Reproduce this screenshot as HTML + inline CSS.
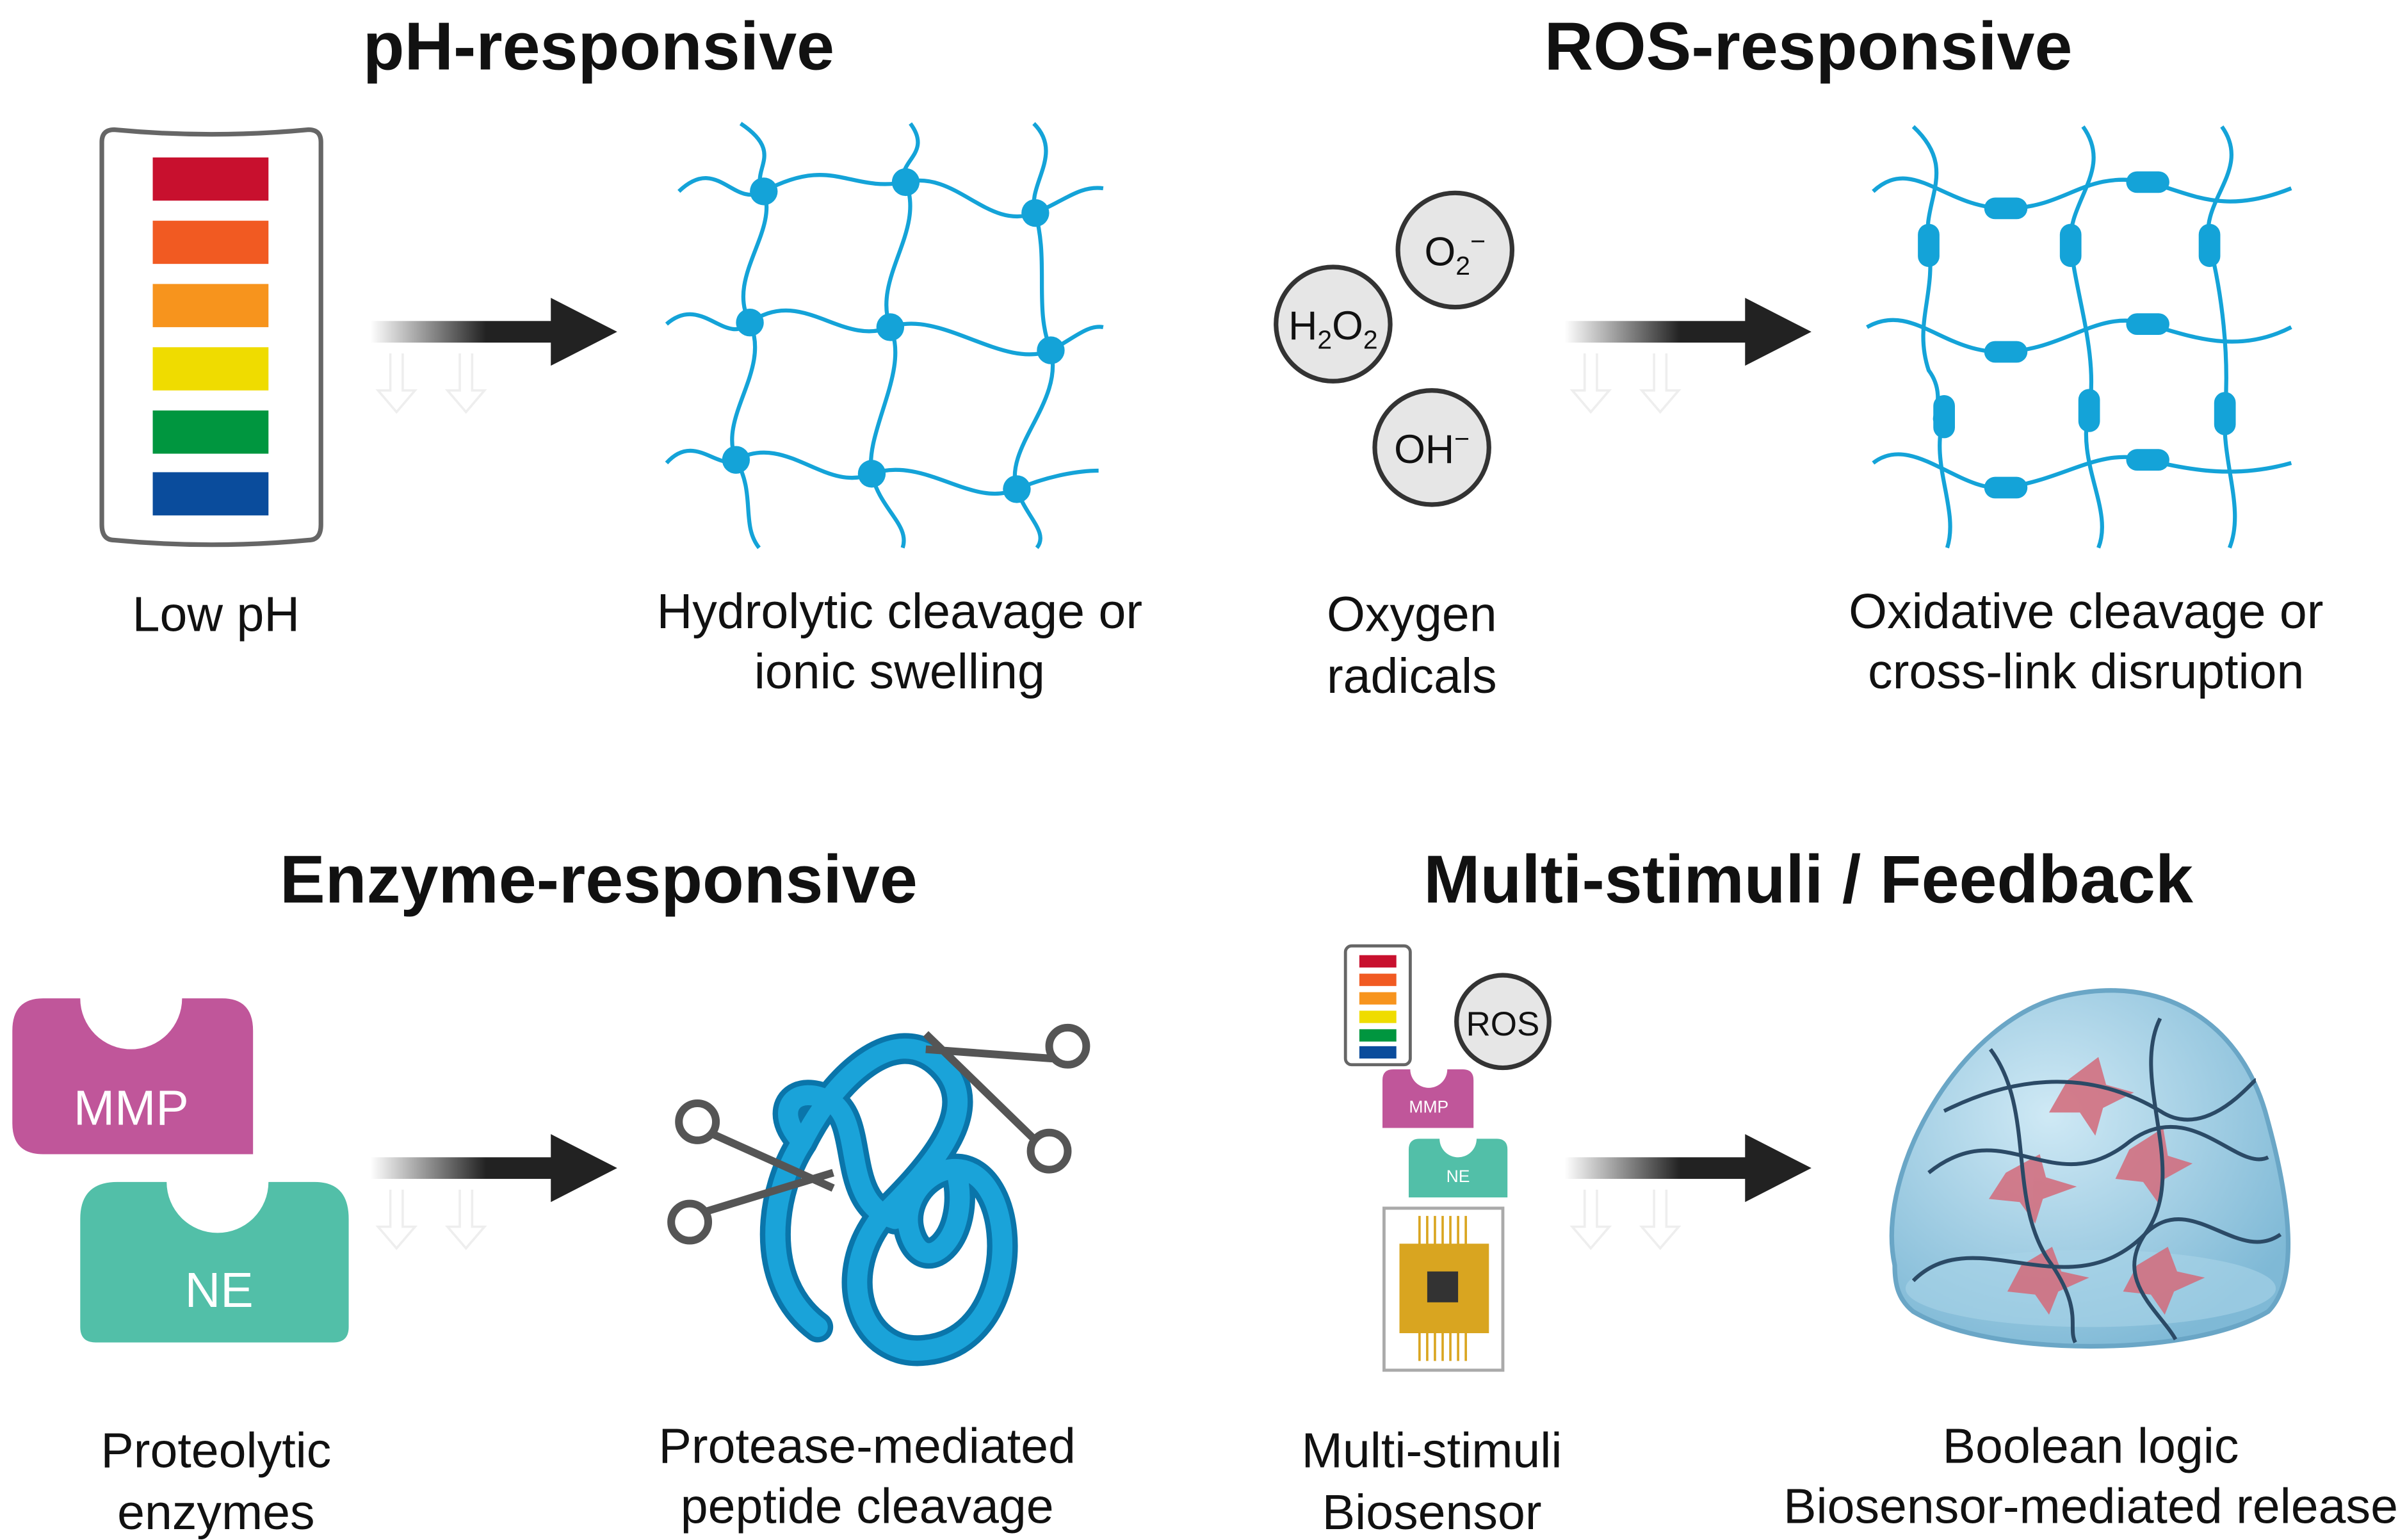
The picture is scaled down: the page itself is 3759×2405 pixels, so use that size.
<!DOCTYPE html>
<html><head><meta charset="utf-8"><style>
html,body{margin:0;padding:0;background:#fff;}
svg{display:block;}
text{font-family:"Liberation Sans",sans-serif;fill:#111;}
.t{font-weight:bold;font-size:44px;text-anchor:middle;}
.b{font-size:32px;text-anchor:middle;}
.net path{fill:none;stroke:#14a3d8;stroke-width:2.6;}
</style></head><body>
<svg width="3759" height="2405" viewBox="0 0 1560 998" xmlns="http://www.w3.org/2000/svg">
<defs>
<linearGradient id="ag" x1="0" x2="1"><stop offset="0" stop-color="#222" stop-opacity="0"/><stop offset="0.6" stop-color="#222"/><stop offset="1" stop-color="#222"/></linearGradient>
<g id="arrow"><rect x="0" y="-7" width="125" height="14" fill="url(#ag)"/><polygon points="117,-22 160,0 117,22" fill="#222"/>
<g fill="none" stroke="#eee" stroke-width="1.5"><path d="M13,14 v24 h-8 l12,14 l12,-14 h-8 v-24"/><path d="M58,14 v24 h-8 l12,14 l12,-14 h-8 v-24"/></g></g>
<radialGradient id="dome" cx="0.4" cy="0.35" r="0.7"><stop offset="0" stop-color="#cfe9f5"/><stop offset="1" stop-color="#7fb9d6"/></radialGradient>
</defs>

<text class="t" x="388" y="45">pH-responsive</text>
<text class="t" x="1172" y="45">ROS-responsive</text>
<text class="t" x="388" y="585">Enzyme-responsive</text>
<text class="t" x="1172" y="585">Multi-stimuli / Feedback</text>

<!-- pH strip -->
<path d="M66,92 Q66,84 74,84 Q137,90 200,84 Q208,84 208,92 L208,340 Q208,350 200,350 Q137,356 74,350 Q66,350 66,340 Z" fill="#fff" stroke="#666" stroke-width="3"/>
<rect x="99" y="102" width="75" height="28" fill="#c8102e"/>
<rect x="99" y="143" width="75" height="28" fill="#f15a22"/>
<rect x="99" y="184" width="75" height="28" fill="#f7941d"/>
<rect x="99" y="225" width="75" height="28" fill="#efdc00"/>
<rect x="99" y="266" width="75" height="28" fill="#00963f"/>
<rect x="99" y="306" width="75" height="28" fill="#0a4c9c"/>
<text class="b" x="140" y="409">Low pH</text>

<use href="#arrow" x="240" y="215"/>
<use href="#arrow" x="1014" y="215"/>
<use href="#arrow" x="240" y="757"/>
<use href="#arrow" x="1014" y="757"/>

<!-- pH network -->
<g class="net">
<path d="M440,124 C465,100 475,135 495,124 C540,100 550,125 587,118 C620,110 640,150 671,138 C690,130 700,120 715,122"/>
<path d="M432,210 C455,190 470,225 486,209 C520,185 545,225 577,212 C610,200 650,240 681,227 C695,220 705,210 715,212"/>
<path d="M432,300 C450,280 465,305 477,298 C510,280 535,320 565,307 C600,295 630,330 659,317 C680,308 700,305 712,305"/>
<path d="M480,80 C510,100 485,110 495,124 C505,150 470,180 486,209 C500,240 465,270 477,298 C490,320 480,340 492,355"/>
<path d="M590,80 C605,100 580,105 587,118 C600,150 565,180 577,212 C590,240 560,280 565,307 C570,330 590,340 585,355"/>
<path d="M670,80 C690,100 665,120 671,138 C680,170 670,200 681,227 C690,260 650,290 659,317 C665,335 680,345 672,355"/>
<g fill="#14a3d8"><circle cx="495" cy="124" r="9"/><circle cx="587" cy="118" r="9"/><circle cx="671" cy="138" r="9"/><circle cx="486" cy="209" r="9"/><circle cx="577" cy="212" r="9"/><circle cx="681" cy="227" r="9"/><circle cx="477" cy="298" r="9"/><circle cx="565" cy="307" r="9"/><circle cx="659" cy="317" r="9"/></g>
</g>
<text class="b" x="583" y="407">Hydrolytic cleavage or</text>
<text class="b" x="583" y="446">ionic swelling</text>

<!-- ROS circles -->
<g fill="#e6e6e6" stroke="#333" stroke-width="3"><circle cx="943" cy="162" r="37"/><circle cx="864" cy="210" r="37"/><circle cx="928" cy="290" r="37"/></g>
<text x="943" y="172" font-size="26" text-anchor="middle">O<tspan font-size="17" dy="6">2</tspan><tspan font-size="17" dy="-16">−</tspan></text>
<text x="864" y="220" font-size="26" text-anchor="middle">H<tspan font-size="17" dy="6">2</tspan><tspan dy="-6">O</tspan><tspan font-size="17" dy="6">2</tspan></text>
<text x="928" y="300" font-size="26" text-anchor="middle">OH<tspan font-size="17" dy="-10">−</tspan></text>
<text class="b" x="915" y="409">Oxygen</text>
<text class="b" x="915" y="449">radicals</text>

<!-- ROS network -->
<g class="net">
<path d="M1214,124 C1240,100 1260,135 1300,135 C1340,135 1350,110 1392,118 C1420,125 1440,140 1485,122"/>
<path d="M1210,212 C1240,195 1260,230 1300,228 C1340,226 1360,200 1392,210 C1420,218 1450,230 1485,212"/>
<path d="M1214,300 C1240,280 1270,320 1300,316 C1340,310 1360,290 1392,298 C1420,305 1450,310 1485,300"/>
<path d="M1240,82 C1270,110 1245,130 1250,158 C1255,190 1240,210 1250,240 C1265,260 1245,280 1260,270 C1250,300 1270,330 1262,355"/>
<path d="M1350,82 C1370,110 1340,130 1342,158 C1345,190 1360,230 1354,265 C1345,300 1370,330 1360,355"/>
<path d="M1440,82 C1460,110 1425,130 1432,158 C1440,190 1445,230 1442,268 C1440,300 1455,330 1445,355"/>
<g fill="#14a3d8">
<rect x="1286" y="128" width="28" height="14" rx="7"/><rect x="1378" y="111" width="28" height="14" rx="7"/>
<rect x="1286" y="221" width="28" height="14" rx="7"/><rect x="1378" y="203" width="28" height="14" rx="7"/>
<rect x="1286" y="309" width="28" height="14" rx="7"/><rect x="1378" y="291" width="28" height="14" rx="7"/>
<rect x="1243" y="145" width="14" height="28" rx="7"/><rect x="1335" y="145" width="14" height="28" rx="7"/><rect x="1425" y="145" width="14" height="28" rx="7"/>
<rect x="1253" y="256" width="14" height="28" rx="7"/><rect x="1347" y="252" width="14" height="28" rx="7"/><rect x="1435" y="254" width="14" height="28" rx="7"/>
</g></g>
<text class="b" x="1352" y="407">Oxidative cleavage or</text>
<text class="b" x="1352" y="446">cross-link disruption</text>

<!-- Enzymes -->
<path d="M8,668 Q8,647 28,647 L52,647 A33,33 0 0 0 118,647 L144,647 Q164,647 164,668 L164,748 L28,748 Q8,748 8,728 Z" fill="#c0569a"/>
<text x="85" y="729" font-size="32" text-anchor="middle" fill="#fff" style="fill:#fff">MMP</text>
<path d="M52,790 Q52,766 76,766 L108,766 A33,33 0 0 0 174,766 L204,766 Q226,766 226,790 L226,860 Q226,870 216,870 L62,870 Q52,870 52,860 Z" fill="#52bfa8"/>
<text x="142" y="847" font-size="32" text-anchor="middle" style="fill:#fff">NE</text>
<text class="b" x="140" y="951">Proteolytic</text>
<text class="b" x="140" y="991">enzymes</text>

<!-- coil -->
<g fill="none" stroke-linecap="round">
<path d="M530,860 C490,830 500,770 520,740 C540,700 580,660 610,690 C640,720 600,760 570,790 C540,830 560,880 600,875 C650,870 660,800 640,770 C620,740 580,770 590,800 C600,830 630,800 620,760 M520,740 C500,720 515,700 540,715 C560,730 545,780 580,790" stroke="#0a75aa" stroke-width="20"/>
<path d="M530,860 C490,830 500,770 520,740 C540,700 580,660 610,690 C640,720 600,760 570,790 C540,830 560,880 600,875 C650,870 660,800 640,770 C620,740 580,770 590,800 C600,830 630,800 620,760 M520,740 C500,720 515,700 540,715 C560,730 545,780 580,790" stroke="#1aa3d9" stroke-width="13"/>
</g>
<g stroke="#555" stroke-width="5" fill="none"><circle cx="452" cy="727" r="12"/><circle cx="447" cy="792" r="12"/><path d="M462,735 L540,770 M458,785 L540,760"/>
<circle cx="692" cy="678" r="12"/><circle cx="680" cy="746" r="12"/><path d="M682,686 L600,680 M670,738 L600,670"/></g>
<text class="b" x="562" y="948">Protease-mediated</text>
<text class="b" x="562" y="987">peptide cleavage</text>

<!-- multi -->
<rect x="872" y="613" width="42" height="77" rx="4" fill="#fff" stroke="#666" stroke-width="2"/>
<g><rect x="881" y="619" width="24" height="8" fill="#c8102e"/><rect x="881" y="631" width="24" height="8" fill="#f15a22"/><rect x="881" y="643" width="24" height="8" fill="#f7941d"/><rect x="881" y="655" width="24" height="8" fill="#efdc00"/><rect x="881" y="667" width="24" height="8" fill="#00963f"/><rect x="881" y="678" width="24" height="8" fill="#0a4c9c"/></g>
<circle cx="974" cy="662" r="30" fill="#e6e6e6" stroke="#333" stroke-width="3"/>
<text x="974" y="671" font-size="22" text-anchor="middle">ROS</text>
<path d="M896,700 Q896,693 903,693 L914,693 A12,12 0 0 0 938,693 L948,693 Q955,693 955,700 L955,731 L896,731 Z" fill="#c0569a"/>
<text x="926" y="721" font-size="11" text-anchor="middle" style="fill:#fff">MMP</text>
<path d="M913,745 Q913,738 920,738 L933,738 A12,12 0 0 0 957,738 L970,738 Q977,738 977,745 L977,776 L913,776 Z" fill="#52bfa8"/>
<text x="945" y="766" font-size="11" text-anchor="middle" style="fill:#fff">NE</text>
<rect x="897" y="783" width="77" height="105" fill="#fff" stroke="#aaa" stroke-width="2"/>
<g stroke="#d9a520" stroke-width="1.5"><path d="M920,788 v20 M925,788 v20 M930,788 v20 M935,788 v20 M940,788 v20 M945,788 v20 M950,788 v20 M920,862 v20 M925,862 v20 M930,862 v20 M935,862 v20 M940,862 v20 M945,862 v20 M950,862 v20"/></g>
<rect x="907" y="806" width="58" height="58" fill="#d9a520"/>
<rect x="925" y="824" width="20" height="20" fill="#333"/>
<text class="b" x="928" y="951">Multi-stimuli</text>
<text class="b" x="928" y="991">Biosensor</text>

<!-- dome -->
<path d="M1228,820 C1215,760 1270,660 1340,645 C1400,632 1450,660 1468,720 C1485,780 1490,830 1470,850 C1420,880 1290,880 1240,850 C1230,842 1228,832 1228,820 Z" fill="url(#dome)" stroke="#6aa6c6" stroke-width="3"/>
<ellipse cx="1355" cy="835" rx="120" ry="25" fill="#a9d3e8" opacity="0.6"/>
<g fill="#d46a7a" opacity="0.85"><path d="M1340,700 l20,-15 l5,18 l18,5 l-20,10 l-5,18 l-10,-15 l-20,0 z"/><path d="M1300,760 l22,-12 l4,15 l20,6 l-22,8 l-5,16 l-10,-14 l-20,-2 z"/><path d="M1380,745 l22,-14 l3,18 l16,5 l-18,10 l-4,16 l-10,-14 l-18,-2 z"/><path d="M1310,820 l20,-12 l6,16 l18,4 l-20,9 l-6,15 l-9,-13 l-18,-2 z"/><path d="M1385,820 l20,-12 l6,16 l18,4 l-20,9 l-6,15 l-9,-13 l-18,-2 z"/></g>
<g fill="none" stroke="#2b4a66" stroke-width="2.5"><path d="M1250,760 C1300,720 1330,780 1380,740 C1420,710 1450,760 1470,750"/><path d="M1240,830 C1280,790 1340,850 1390,800 C1420,770 1450,820 1478,800"/><path d="M1290,680 C1320,720 1300,780 1330,820 C1350,850 1340,860 1345,870"/><path d="M1400,660 C1380,700 1420,760 1390,800 C1370,830 1400,850 1410,868"/><path d="M1260,720 C1300,700 1350,690 1400,720 C1430,740 1460,700 1462,700"/></g>
<text class="b" x="1355" y="948">Boolean logic</text>
<text class="b" x="1355" y="987">Biosensor-mediated release</text>
</svg>
</body></html>
